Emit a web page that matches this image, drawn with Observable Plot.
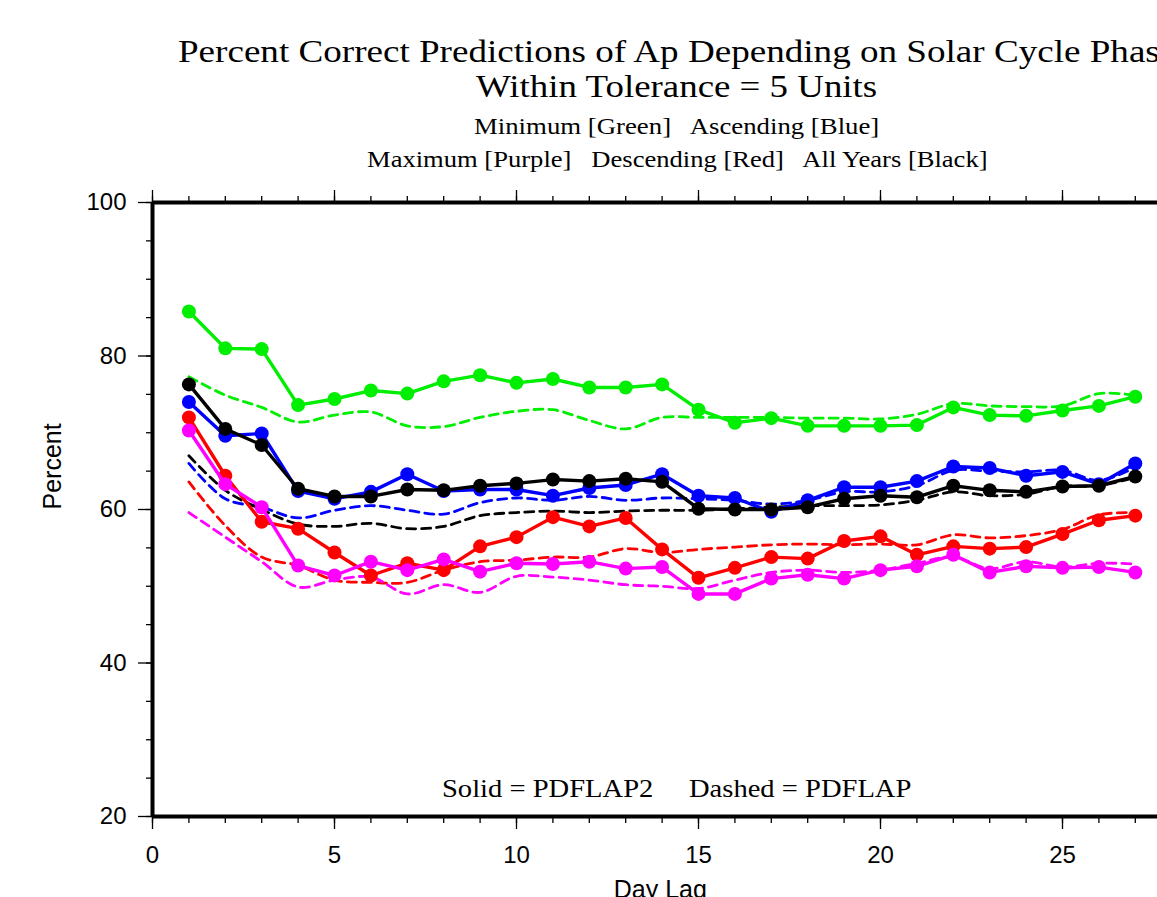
<!DOCTYPE html>
<html><head><meta charset="utf-8">
<script src="https://cdn.jsdelivr.net/npm/d3@7"></script>
<script src="https://cdn.jsdelivr.net/npm/@observablehq/plot@0.6"></script>
<style>
html,body{margin:0;padding:0;background:#fff;overflow:hidden;}
#wrap{position:relative;width:1157px;height:897px;overflow:hidden;background:#fff;}
#wrap svg{position:absolute;left:0;top:0;max-width:none !important;}
.t{position:absolute;left:0;width:1354px;text-align:center;font-family:"Liberation Serif",serif;line-height:1;white-space:pre;color:#000;}
.t span{display:inline-block;transform-origin:50% 50%;}
</style></head><body><div id="wrap"></div><script>
// ---- data ----
const days = [1,2,3,4,5,6,7,8,9,10,11,12,13,14,15,16,17,18,19,20,21,22,23,24,25,26,27];

const greenSolid   = [85.8,81.0,80.9,73.6,74.4,75.5,75.1,76.7,77.5,76.5,77.0,75.9,75.9,76.3,73.0,71.3,71.9,70.9,70.9,70.9,71.0,73.3,72.3,72.2,72.9,73.5,74.7];
const greenDashed  = [77.3,74.9,73.3,71.4,72.3,72.7,70.9,70.8,72.0,72.8,73.0,71.6,70.5,72.0,72.0,72.0,72.0,71.9,71.9,71.8,72.4,73.8,73.5,73.4,73.5,75.1,74.9];

const blueSolid    = [74.0,69.6,69.9,62.4,61.4,62.3,64.6,62.4,62.6,62.6,61.8,62.8,63.2,64.6,61.8,61.5,59.7,61.2,62.9,62.9,63.7,65.6,65.4,64.4,64.9,63.3,66.0];
const blueDashed   = [66.0,61.4,60.3,58.9,59.9,60.5,59.9,59.4,60.9,61.5,61.2,61.7,61.2,61.5,61.4,61.2,60.7,61.2,62.3,62.3,63.1,65.1,65.0,64.9,65.1,63.8,65.5];

const blackSolid   = [76.3,70.5,68.4,62.7,61.7,61.7,62.6,62.5,63.1,63.4,63.9,63.7,64.0,63.6,60.1,60.0,60.0,60.3,61.4,61.8,61.6,63.1,62.5,62.3,63.0,63.1,64.3];
const blackDashed  = [67.0,62.5,60.0,58.1,57.8,58.2,57.5,57.8,59.2,59.6,59.8,59.6,59.8,59.9,59.9,60.1,60.3,60.5,60.5,60.6,61.2,62.3,61.8,62.0,63.0,63.1,64.2];

const redSolid     = [72.0,64.4,58.4,57.5,54.4,51.4,53.0,52.1,55.2,56.4,59.0,57.8,58.9,54.8,51.1,52.4,53.8,53.6,55.9,56.5,54.1,55.2,54.9,55.1,56.8,58.6,59.2];
const redDashed    = [63.6,57.9,53.8,52.7,50.8,50.5,50.5,52.1,53.2,53.4,53.8,53.8,54.9,54.4,54.8,55.1,55.4,55.5,55.4,55.5,55.4,56.7,56.3,56.6,57.4,59.3,59.6];

const magentaSolid = [70.3,63.3,60.3,52.7,51.4,53.2,52.1,53.5,51.9,53.0,52.9,53.2,52.3,52.5,49.0,49.0,51.0,51.5,51.0,52.1,52.6,54.1,51.8,52.6,52.4,52.5,51.8];
const magentaDashed= [59.6,56.4,53.2,49.9,50.8,51.2,49.0,50.2,49.2,51.3,51.2,50.8,50.2,50.0,49.7,50.8,51.8,52.1,51.8,52.1,53.0,53.8,52.3,53.2,52.5,53.0,52.9];

const phaseNames  = ["Minimum","Ascending","All Years","Descending","Maximum"];
const phaseColors = ["#00ee00","#0000ff","#000000","#ff0000","#ff00ff"];
const solidSets   = [greenSolid, blueSolid, blackSolid, redSolid, magentaSolid];
const dashedSets  = [greenDashed, blueDashed, blackDashed, redDashed, magentaDashed];

const xMajorTicks = [0,5,10,15,20,25];
const xMinorTicks = [0,1,2,3,4,5,6,7,8,9,10,11,12,13,14,15,16,17,18,19,20,21,22,23,24,25,26,27,28];
const yMajorTicks = [20,40,60,80,100];
const yMinorTicks = [20,25,30,35,40,45,50,55,60,65,70,75,80,85,90,95,100];

const titleLines = [
  {text:"Percent Correct Predictions of Ap Depending on Solar Cycle Phase", size:31, base:62, w:998},
  {text:"Within Tolerance = 5 Units", size:31, base:97, w:401},
  {text:"Minimum [Green]   Ascending [Blue]", size:24, base:134, w:405},
  {text:"Maximum [Purple]   Descending [Red]   All Years [Black]", size:24, base:167, w:621},
  {text:"Solid = PDFLAP2     Dashed = PDFLAP", size:26, base:798, w:469}
];

// ---- build ----
const toRows = (arr, phase) => days.map((d,i) => ({day:d, pct:arr[i], phase}));
const dashedMarks = phaseNames.map((p,k) => Plot.line(toRows(dashedSets[k], p), {
  x:"day", y:"pct", stroke: phaseColors[k], strokeWidth:2.8, strokeDasharray:"9,6", curve:"catmull-rom"
}));
const solidMarks = phaseNames.flatMap((p,k) => {
  const rows = toRows(solidSets[k], p);
  return [
    Plot.line(rows, {x:"day", y:"pct", stroke: phaseColors[k], strokeWidth:3.4}),
    Plot.dot(rows, {x:"day", y:"pct", fill: phaseColors[k], r:7})
  ];
});

const chart = Plot.plot({
  width:1230, height:930,
  marginLeft:152, marginRight:22.4, marginTop:202, marginBottom:114,
  x:{domain:[0,29], label:null},
  y:{domain:[20,100], label:null},
  style:{fontFamily:"'Liberation Sans', Arial, sans-serif", fontSize:"24px", background:"white", maxWidth:"none", overflow:"visible"},
  marks:[
    Plot.axisX({anchor:"bottom", ticks:xMinorTicks, tickSize:7, strokeWidth:1.3, fill:"none", label:null}),
    Plot.axisX({anchor:"bottom", ticks:xMajorTicks, tickSize:13, tickPadding:16, strokeWidth:1.3, fontSize:24, label:null, tickFormat:d=>String(d)}),
    Plot.axisX({anchor:"top", ticks:xMinorTicks, tickSize:7, strokeWidth:1.3, fill:"none", label:null}),
    Plot.axisX({anchor:"top", ticks:xMajorTicks, tickSize:13, strokeWidth:1.3, fill:"none", label:null}),
    Plot.axisY({anchor:"left", ticks:yMinorTicks, tickSize:6, strokeWidth:1.3, fill:"none", label:null}),
    Plot.axisY({anchor:"left", ticks:yMajorTicks, tickSize:14, tickPadding:12, strokeWidth:1.3, fontSize:24, label:null, tickFormat:d=>String(d)}),
    Plot.ruleX([0], {strokeWidth:4}),
    Plot.ruleX([29], {strokeWidth:4}),
    Plot.ruleY([20], {strokeWidth:4}),
    Plot.ruleY([100], {strokeWidth:4}),
    ...dashedMarks,
    ...solidMarks,
    Plot.text(["Percent"], {text:d=>d, frameAnchor:"left", rotate:-90, dx:-100, fontSize:25}),
    Plot.text(["Day Lag"], {text:d=>d, frameAnchor:"bottom", lineAnchor:"top", dx:-20, dy:64, fontSize:25})
  ]
});

const wrap = document.getElementById("wrap");
wrap.appendChild(chart);

for (const L of titleLines) {
  const div = document.createElement("div");
  div.className = "t";
  div.style.fontSize = L.size + "px";
  div.style.top = (L.base - 0.8375 * L.size) + "px";
  const span = document.createElement("span");
  span.textContent = L.text;
  div.appendChild(span);
  wrap.appendChild(div);
  const w = span.offsetWidth;
  span.style.transform = `scaleX(${L.w / w})`;
}
</script></body></html>
